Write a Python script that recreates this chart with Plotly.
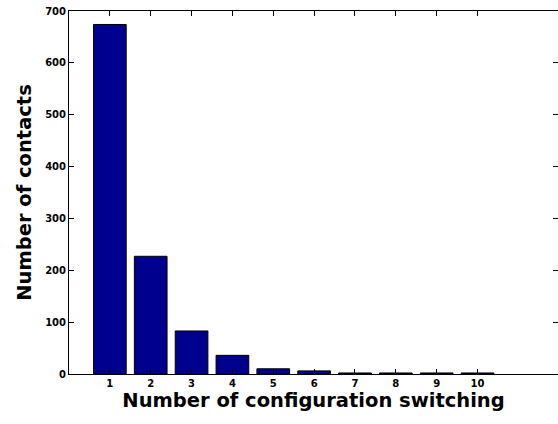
import plotly.graph_objects as go

switching = [1, 2, 3, 4, 5, 6, 7, 8, 9, 10]
contacts = [674, 227, 83, 36, 10, 6, 2, 2, 2, 2]
x_ticks = [1, 2, 3, 4, 5, 6, 7, 8, 9, 10]
y_ticks = [0, 100, 200, 300, 400, 500, 600, 700]

fig = go.Figure()
fig.add_trace(go.Bar(
    x=switching, y=contacts, width=0.8,
    marker=dict(color="#00008F", line=dict(color="black", width=1)),
))

font_family = "DejaVu Sans"
fig.update_layout(
    width=558, height=424,
    margin=dict(l=69, r=0, t=11, b=50),
    paper_bgcolor="white", plot_bgcolor="white",
    showlegend=False,
    font=dict(family=font_family, color="black"),
)
fig.update_xaxes(
    range=[0, 11.97], tickmode="array", tickvals=x_ticks,
    ticktext=[str(v) for v in x_ticks],
    ticks="inside", ticklen=5, tickcolor="black", tickwidth=1,
    showline=True, linecolor="black", linewidth=1, mirror="ticks",
    showgrid=False, zeroline=False, automargin=False,
    tickfont=dict(family=font_family, size=10, color="black", weight="bold"),
    title=dict(text="<b>Number of configuration switching</b>",
               font=dict(family=font_family, size=19.5, color="black"), standoff=2),
)
fig.update_yaxes(
    range=[0, 700], tickmode="array", tickvals=y_ticks,
    ticktext=[str(v) for v in y_ticks],
    ticks="inside", ticklen=5, tickcolor="black", tickwidth=1,
    showline=True, linecolor="black", linewidth=1, mirror="ticks",
    showgrid=False, zeroline=False, automargin=False,
    tickfont=dict(family=font_family, size=10, color="black", weight="bold"),
    title=dict(text="<b>Number of contacts</b>",
               font=dict(family=font_family, size=19.5, color="black"), standoff=8),
)

fig.write_html(
    "out.html",
    config={"displayModeBar": False},
    post_script="document.body.style.margin='0';document.body.style.overflow='hidden';",
)
